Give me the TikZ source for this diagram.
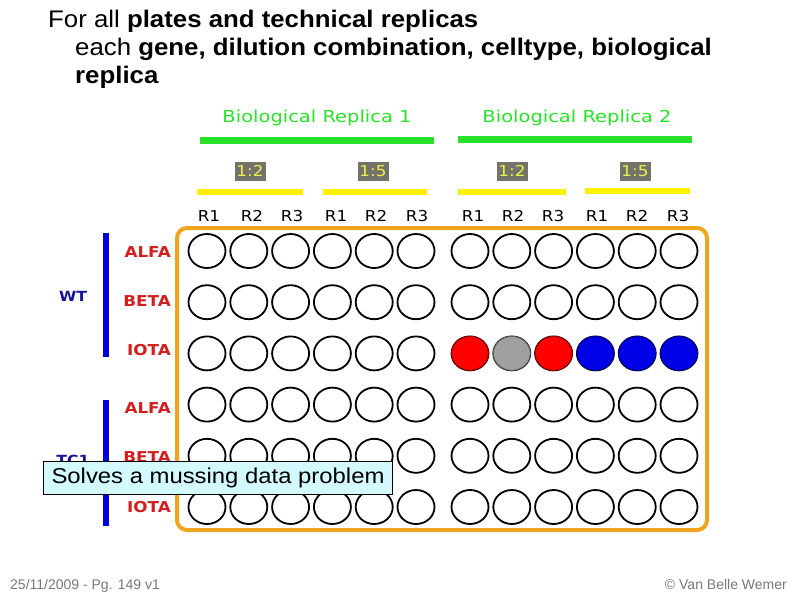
\documentclass[tikz,border=0pt]{standalone}
\usepackage{fontspec}
\setmainfont{Liberation Sans}
\newfontfamily\platefont[FakeStretch=1.12]{DejaVu Sans}
\newfontfamily\greenfont[FakeStretch=1.18]{DejaVu Sans}
\newfontfamily\titlefont[FakeStretch=1.075]{Liberation Sans}
\newfontfamily\notefont[FakeStretch=1.11]{Liberation Sans}
\usetikzlibrary{shapes.geometric}

\definecolor{repgreen}{RGB}{40,225,40}
\definecolor{dilyellow}{RGB}{255,240,0}
\definecolor{dilgray}{RGB}{115,115,105}
\definecolor{diltext}{RGB}{240,240,80}
\definecolor{plateorange}{RGB}{240,165,30}
\definecolor{genered}{RGB}{210,30,30}
\definecolor{cellblue}{RGB}{0,0,220}
\definecolor{celltext}{RGB}{20,20,150}
\definecolor{wellred}{RGB}{255,0,0}
\definecolor{wellgray}{RGB}{160,160,160}
\definecolor{wellblue}{RGB}{0,0,230}
\definecolor{notecyan}{RGB}{210,250,255}
\definecolor{footgray}{RGB}{120,120,120}

\begin{document}
\begin{tikzpicture}[x=1pt,y=-1pt,
    well/.style={draw=black, line width=1.8pt, ellipse, minimum width=37pt, minimum height=34pt, inner sep=0pt},
    gene/.style={text=genered, font=\platefont\bfseries\fontsize{15}{15}\selectfont, anchor=east, inner sep=0pt},
    cell/.style={text=celltext, font=\platefont\bfseries\fontsize{14}{14}\selectfont, inner sep=0pt},
    rep/.style={font=\platefont\fontsize{15}{15}\selectfont, inner sep=0pt},
    dil/.style={fill=dilgray, text=diltext, font=\platefont\fontsize{15}{15}\selectfont, minimum width=31pt, minimum height=19pt, inner sep=0pt},
    biorep/.style={text=repgreen, font=\greenfont\fontsize{16.5}{16.5}\selectfont, inner sep=0pt},
    title/.style={font=\titlefont\fontsize{24}{28}\selectfont, anchor=base west, inner sep=0pt}]
    \useasboundingbox (0,0) rectangle (794,595);

    \node[title] (t1) at (48,27) {For all \textbf{plates and technical replicas}};
    \node[title] (t2) at (75,55) {each \textbf{gene, dilution combination, celltype, biological}};
    \node[title] (t3) at (75,83) {\textbf{replica}};

    \draw[repgreen, line width=7pt] (200,140) -- (434,140);
    \draw[repgreen, line width=7pt] (458,139) -- (692,139);
    \node[biorep] (bio1) at (317,118) {Biological Replica 1};
    \node[biorep] (bio2) at (577,118) {Biological Replica 2};

    \foreach \x/\t [count=\k] in {250/1:2,373/1:5,512/1:2,635/1:5}
        \node[dil] (dil\k) at (\x,171) {\t};
    \draw[dilyellow, line width=6pt] (197,192) -- (303,192);
    \draw[dilyellow, line width=6pt] (323,192) -- (427,192);
    \draw[dilyellow, line width=6pt] (458,192) -- (566,192);
    \draw[dilyellow, line width=6pt] (585,191) -- (690,191);

    \foreach \x/\t [count=\k] in {209/R1,252/R2,292/R3,336/R1,376/R2,417/R3,473/R1,513/R2,553/R3,597/R1,637/R2,678/R3}
        \node[rep] (rep\k) at (\x,216) {\t};

    \draw[plateorange, line width=4pt, rounded corners=10pt] (177,228) rectangle (707,530);

    \foreach \c [count=\i] in {207,248.8,290.6,332.4,374.2,416,470,511.8,553.6,595.4,637.2,679}
        \foreach \r [count=\j] in {251,302.2,353.4,404.6,455.8,507}
            \node[well] (w\j-\i) at (\c,\r) {};
    \foreach \i/\col in {7/wellred,8/wellgray,9/wellred,10/wellblue,11/wellblue,12/wellblue}
        \node[well, fill=\col, draw=\col!60!black, line width=1pt] (f\i) at (w3-\i) {};

    \foreach \g/\y [count=\k] in {ALFA/252,BETA/301,IOTA/350,ALFA/408,BETA/457,IOTA/507}
        \node[gene] (g\k) at (171,\y) {\g};

    \draw[cellblue, line width=6pt] (106,233) -- (106,357);
    \draw[cellblue, line width=6pt] (106,400) -- (106,526);
    \node[cell] (wt) at (73,296) {WT};
    \node[cell] (tc1) at (73,460) {TC1};

    \node[draw=black, line width=1pt, fill=notecyan, anchor=north west, minimum width=349pt, minimum height=33pt,
        font=\notefont\fontsize{21.5}{21.5}\selectfont] (note) at (43,461) {Solves a mussing data problem};

    \node[text=footgray, font=\fontsize{14}{14}\selectfont, anchor=base west, inner sep=0pt] (date) at (10,589) {25/11/2009 - Pg. 149 v1};
    \node[text=footgray, font=\fontsize{14}{14}\selectfont, anchor=base east, inner sep=0pt] (copy) at (787,589) {\textcopyright{} Van Belle Wemer};
\end{tikzpicture}
\end{document}
